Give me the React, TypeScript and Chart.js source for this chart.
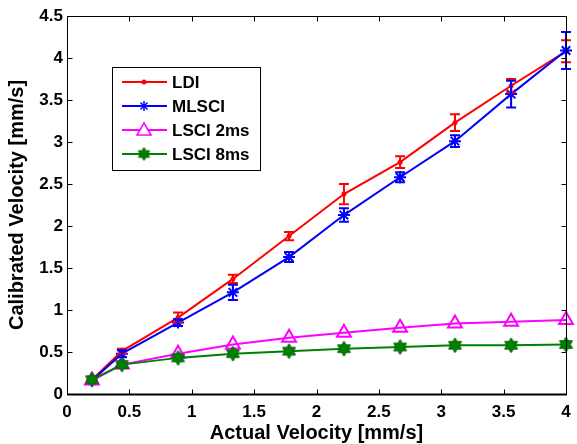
import React, { useEffect, useRef } from "react";
import { Chart, registerables } from "chart.js";

Chart.register(...registerables);

const xVals = [0.2, 0.44, 0.89, 1.33, 1.78, 2.22, 2.67, 3.11, 3.56, 4.0];
const ldi = [0.17, 0.51, 0.91, 1.37, 1.88, 2.38, 2.76, 3.23, 3.67, 4.08];
const ldiErr = [0, 0.03, 0.06, 0.05, 0.05, 0.12, 0.07, 0.1, 0.08, 0.13];
const mlsci = [0.16, 0.48, 0.85, 1.21, 1.63, 2.13, 2.58, 3.01, 3.57, 4.09];
const mlsciErr = [0, 0.04, 0.04, 0.09, 0.06, 0.08, 0.06, 0.07, 0.16, 0.22];
const lsci2 = [0.16, 0.35, 0.48, 0.59, 0.67, 0.73, 0.79, 0.84, 0.86, 0.88];
const lsci8 = [0.17, 0.35, 0.43, 0.48, 0.51, 0.54, 0.56, 0.58, 0.58, 0.59];
const seriesNames = ["LDI", "MLSCI", "LSCI 2ms", "LSCI 8ms"];
const xTitle = "Actual Velocity [mm/s]";
const yTitle = "Calibrated Velocity [mm/s]";

const RED = "#ff0000";
const BLUE = "#0000ff";
const MAG = "#ff00ff";
const GREEN = "#008000";
const FONT = "'Liberation Sans', Arial, sans-serif";

function makeHexagram(size: number, color: string): HTMLCanvasElement {
  const c = document.createElement("canvas");
  c.width = size;
  c.height = size;
  const ctx = c.getContext("2d")!;
  const cx = size / 2, cy = size / 2;
  const R = size / 2 - 1;
  const r = R / Math.sqrt(3);
  ctx.beginPath();
  for (let i = 0; i < 12; i++) {
    const a = -Math.PI / 2 + (i * Math.PI) / 6;
    const rad = i % 2 === 0 ? R : r;
    const px = cx + rad * Math.cos(a), py = cy + rad * Math.sin(a);
    if (i === 0) ctx.moveTo(px, py); else ctx.lineTo(px, py);
  }
  ctx.closePath();
  ctx.fillStyle = color;
  ctx.fill();
  ctx.strokeStyle = "#006000";
  ctx.lineWidth = 1;
  ctx.stroke();
  return c;
}

const fmt = (v: any) => String(Number(v));

export default function App() {
  const ref = useRef<HTMLCanvasElement | null>(null);
  useEffect(() => {
    const hex = makeHexagram(17, GREEN);
    const hexSmall = makeHexagram(15, GREEN);
    const toPts = (ys: number[]) => xVals.map((x, i) => ({ x, y: ys[i] }));

    const errPlugin = {
      id: "errbars",
      afterDatasetsDraw(chart: any) {
        const ctx = chart.ctx;
        const xs = chart.scales.x, ys = chart.scales.y;
        const draw = (vals: number[], errs: number[], color: string) => {
          ctx.save();
          ctx.strokeStyle = color;
          ctx.lineWidth = 2;
          vals.forEach((v, i) => {
            if (!errs[i]) return;
            const px = xs.getPixelForValue(xVals[i]);
            const y1 = ys.getPixelForValue(v + errs[i]);
            const y2 = ys.getPixelForValue(v - errs[i]);
            ctx.beginPath();
            ctx.moveTo(px, y1); ctx.lineTo(px, y2);
            ctx.moveTo(px - 5, y1); ctx.lineTo(px + 5, y1);
            ctx.moveTo(px - 5, y2); ctx.lineTo(px + 5, y2);
            ctx.stroke();
          });
          ctx.restore();
        };
        draw(ldi, ldiErr, RED);
        draw(mlsci, mlsciErr, BLUE);
      },
    };

    const framePlugin = {
      id: "frame",
      afterDraw(chart: any) {
        const ctx = chart.ctx;
        const a = chart.chartArea;
        const xs = chart.scales.x, ys = chart.scales.y;
        ctx.save();
        ctx.strokeStyle = "#000";
        ctx.lineWidth = 1;
        const L = Math.round(a.left) + 0.5, R = Math.round(a.right) + 0.5;
        const T = Math.round(a.top) + 0.5, B = Math.round(a.bottom) + 0.5;
        ctx.beginPath();
        ctx.rect(L, T, R - L, B - T);
        ctx.stroke();
        const tl = 5;
        ctx.beginPath();
        xs.ticks.forEach((t: any) => {
          const px = Math.round(xs.getPixelForValue(t.value)) + 0.5;
          ctx.moveTo(px, B); ctx.lineTo(px, B - tl);
          ctx.moveTo(px, T); ctx.lineTo(px, T + tl);
        });
        ys.ticks.forEach((t: any) => {
          const py = Math.round(ys.getPixelForValue(t.value)) + 0.5;
          ctx.moveTo(L, py); ctx.lineTo(L + tl, py);
          ctx.moveTo(R, py); ctx.lineTo(R - tl, py);
        });
        ctx.stroke();
        ctx.lineWidth = 2;
        ctx.beginPath();
        ctx.moveTo(L - 0.5, B); ctx.lineTo(R + 0.5, B);
        ctx.stroke();

        // legend
        const bx = 112.5, by = 67.5, bw = 148, bh = 103;
        ctx.fillStyle = "#fff";
        ctx.fillRect(bx, by, bw, bh);
        ctx.lineWidth = 1;
        ctx.strokeStyle = "#000";
        ctx.strokeRect(bx, by, bw, bh);
        const rows = [82, 106, 130, 154];
        const cols = [RED, BLUE, MAG, GREEN];
        rows.forEach((ry, i) => {
          ctx.strokeStyle = cols[i];
          ctx.lineWidth = 2;
          ctx.beginPath();
          ctx.moveTo(122, ry); ctx.lineTo(167, ry);
          ctx.stroke();
          const mx = 144;
          if (i === 0) {
            ctx.fillStyle = RED;
            ctx.beginPath(); ctx.arc(mx, ry, 2.5, 0, Math.PI * 2); ctx.fill();
          } else if (i === 1) {
            ctx.lineWidth = 1.5;
            ctx.beginPath();
            const r = 5;
            for (let k = 0; k < 4; k++) {
              const ang = (k * Math.PI) / 4;
              ctx.moveTo(mx - r * Math.cos(ang), ry - r * Math.sin(ang));
              ctx.lineTo(mx + r * Math.cos(ang), ry + r * Math.sin(ang));
            }
            ctx.stroke();
          } else if (i === 2) {
            ctx.lineWidth = 1.5;
            ctx.fillStyle = "#fff";
            ctx.beginPath();
            ctx.moveTo(mx, ry - 7); ctx.lineTo(mx + 7, ry + 5); ctx.lineTo(mx - 7, ry + 5);
            ctx.closePath(); ctx.fill(); ctx.stroke();
          } else {
            ctx.drawImage(hexSmall, mx - 7.5, ry - 7.5);
          }
          ctx.fillStyle = "#000";
          ctx.font = `bold 17px ${FONT}`;
          ctx.textBaseline = "middle";
          ctx.textAlign = "left";
          ctx.fillText(seriesNames[i], 172, ry + 1);
        });
        ctx.restore();
      },
    };

    const chart = new Chart(ref.current!, {
      type: "line",
      data: {
        datasets: [
          {
            label: seriesNames[0], data: toPts(ldi), borderColor: RED, backgroundColor: RED,
            borderWidth: 2, pointStyle: "circle", pointRadius: 2.5, pointBorderWidth: 0, order: 4,
          },
          {
            label: seriesNames[1], data: toPts(mlsci), borderColor: BLUE, backgroundColor: BLUE,
            borderWidth: 2, pointStyle: "star", pointRadius: 6, pointBorderWidth: 2, order: 3,
          },
          {
            label: seriesNames[2], data: toPts(lsci2), borderColor: MAG, backgroundColor: "rgba(255,255,255,0)",
            borderWidth: 2, pointStyle: "triangle", pointRadius: 8, pointBorderWidth: 2, order: 2,
          },
          {
            label: seriesNames[3], data: toPts(lsci8), borderColor: GREEN, backgroundColor: GREEN,
            borderWidth: 2, pointStyle: hex as any, pointRadius: 8, order: 1,
          },
        ],
      },
      options: {
        animation: false,
        responsive: true,
        maintainAspectRatio: false,
        clip: false as any,
        layout: { padding: { top: 16, right: 11, left: 0, bottom: 0 } },
        plugins: { legend: { display: false }, tooltip: { enabled: false } },
        elements: { line: { tension: 0 } },
        scales: {
          x: {
            type: "linear", min: 0, max: 4,
            grid: { display: false, drawTicks: false }, border: { display: false },
            ticks: { stepSize: 0.5, color: "#000", font: { family: FONT, size: 17, weight: "bold" }, padding: 8, maxRotation: 0, callback: fmt },
            title: { display: true, text: xTitle, color: "#000", font: { family: FONT, size: 20, weight: "bold", lineHeight: 1 }, padding: { top: 0, bottom: 1 } },
            afterFit: (s: any) => { s.height = 50; s.paddingRight = 0; s.paddingLeft = 0; },
          },
          y: {
            type: "linear", min: 0, max: 4.5,
            grid: { display: false, drawTicks: false }, border: { display: false },
            ticks: { stepSize: 0.5, color: "#000", font: { family: FONT, size: 17, weight: "bold" }, padding: 4, callback: fmt },
            title: { display: true, text: yTitle, color: "#000", font: { family: FONT, size: 20, weight: "bold", lineHeight: 1 }, padding: { top: 7, bottom: 0 } },
            afterFit: (s: any) => { s.width = 67; s.paddingTop = 0; s.paddingBottom = 0; },
          },
        },
      },
      plugins: [errPlugin, framePlugin],
    });
    return () => chart.destroy();
  }, []);
  return (
    <div style={{ position: "fixed", left: 0, top: 0, width: 577, height: 444, background: "#fff" }}>
      <canvas ref={ref} />
    </div>
  );
}
